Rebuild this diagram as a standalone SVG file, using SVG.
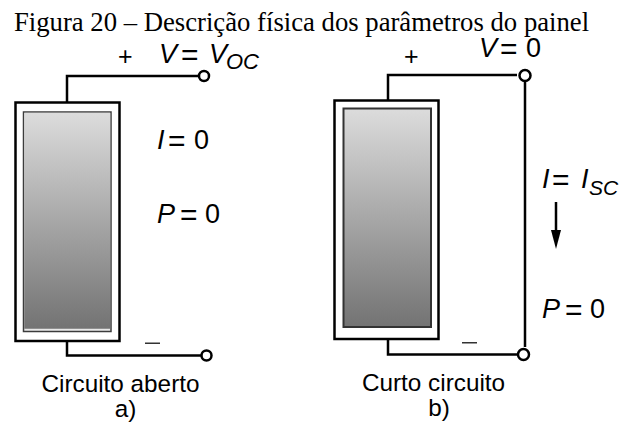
<svg xmlns="http://www.w3.org/2000/svg" width="619" height="423" viewBox="0 0 619 423">
<style>
.w{fill:none;stroke:#000;stroke-width:2.5}
.f{fill:none;stroke:#000;stroke-width:2.5}
.c{fill:#fff;stroke:#000;stroke-width:2.5}
.s{font-family:"Liberation Sans",Arial,sans-serif;font-size:24.3px;fill:#000}
.m{font-family:"Liberation Sans",Arial,sans-serif;font-size:27px;fill:#000}
.e{font-size:30px}
.b{font-size:22px;font-style:italic}
.i{font-style:italic}
.t{font-family:"Liberation Serif","Times New Roman",serif;font-size:26.7px;fill:#000}
</style>
<defs>
<linearGradient id="g" x1="0" y1="0" x2="0" y2="1"><stop offset="0" stop-color="#dcdcdc"/><stop offset="1" stop-color="#737373"/></linearGradient>
</defs>
<text class="t" x="14" y="31">Figura 20 – Descrição física dos parâmetros do painel</text>
<g id="connectors">
<path class="w" d="M67 102V76H198"/>
<path class="w" d="M67 342V355.500H201"/>
<path class="w" d="M388 100V75H517M525 82V347"/>
<path class="w" d="M388 339V354.500H517"/>
<path d="M556 202V232" stroke="#000" stroke-width="2.500" fill="none"/>
<path d="M551 230H561L556 249Z" fill="#000"/>
</g>
<g id="panel-a">
<rect class="f" x="15.500" y="102.500" width="104" height="238.500"/>
<rect x="23.500" y="112" width="87.500" height="219.500" fill="#e8e8e8" stroke="#3c3c3c" stroke-width="1.500"/>
<rect x="24.250" y="112.750" width="86" height="216" fill="url(#g)"/>
</g>
<g id="panel-b">
<rect class="f" x="334.500" y="100.500" width="104" height="238.500"/>
<rect x="343.500" y="108.500" width="87.500" height="218.500" fill="url(#g)" stroke="#333" stroke-width="2"/>
</g>
<g id="terminals">
<circle class="c" cx="204" cy="76" r="5"/>
<circle class="c" cx="206.500" cy="355.500" r="5"/>
<circle class="c" cx="525" cy="75.500" r="5.500"/>
<circle class="c" cx="523.500" cy="354.500" r="5.500"/>
</g>
<g id="labels">
<text class="m" x="118" y="65" style="font-size:25px">+</text>
<text class="m i" x="159" y="63">V</text><text class="m e" x="181" y="65">=</text><text class="m i" x="209" y="63">V</text><text class="m b" x="226" y="69">OC</text>
<text class="m i" x="157" y="149">I</text><text class="m e" x="168" y="151">=</text><text class="m" x="194" y="149">0</text>
<text class="m i" x="157" y="223">P</text><text class="m e" x="180" y="225">=</text><text class="m" x="205" y="223">0</text>
<rect x="145" y="342.500" width="15" height="1.500" fill="#333"/>
<text class="s" x="120.500" y="392" text-anchor="middle">Circuito aberto</text>
<text class="s" x="125.500" y="417" text-anchor="middle">a)</text>
<text class="m" x="404" y="65" style="font-size:25px">+</text>
<text class="m i" x="479" y="57">V</text><text class="m e" x="500" y="59">=</text><text class="m" x="526" y="57">0</text>
<text class="m i" x="542" y="188">I</text><text class="m e" x="552" y="190">=</text><text class="m i" x="581" y="188">I</text><text class="m b" x="589" y="195" style="font-size:21px">SC</text>
<text class="m i" x="542" y="318">P</text><text class="m e" x="565" y="320">=</text><text class="m" x="590" y="318">0</text>
<rect x="462" y="342" width="15" height="1.500" fill="#333"/>
<text class="s" x="433.500" y="391" text-anchor="middle">Curto circuito</text>
<text class="s" x="439" y="416" text-anchor="middle">b)</text>
</g>
</svg>
